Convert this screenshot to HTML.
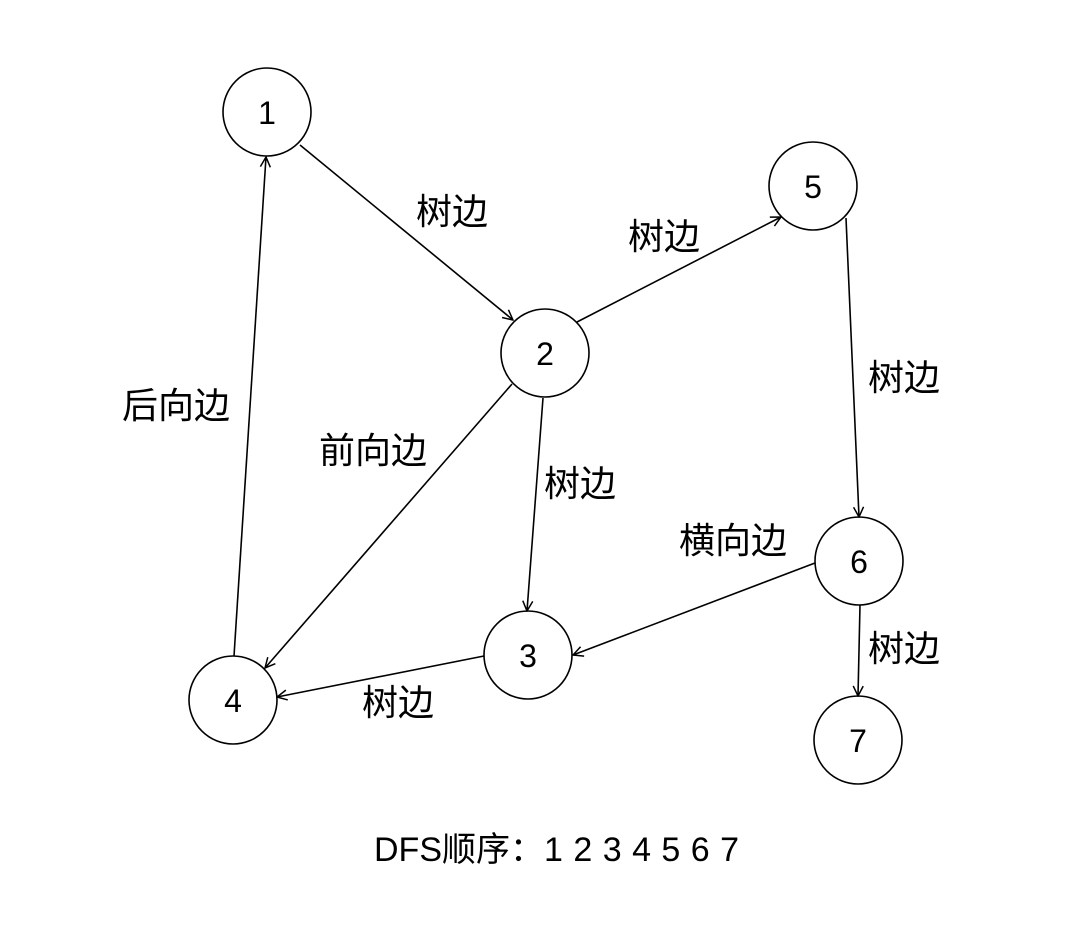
<!DOCTYPE html>
<html><head><meta charset="utf-8"><style>
html,body{margin:0;padding:0;background:#fff;}
svg text{font-family:"Liberation Sans","Noto Sans CJK SC",sans-serif;fill:#000;}
</style></head><body>
<svg width="1089" height="934" viewBox="0 0 1089 934" xmlns="http://www.w3.org/2000/svg">
<defs><marker id="a" viewBox="0 0 12 12" refX="11" refY="6" markerWidth="12" markerHeight="12" markerUnits="userSpaceOnUse" orient="auto"><path d="M1,1 L11,6 L1,11" fill="none" stroke="#000" stroke-width="1.5"/></marker></defs>
<g stroke="#000" stroke-width="1.6" fill="none" marker-end="url(#a)">
<line x1="300" y1="145" x2="513" y2="320"/>
<line x1="577" y1="322" x2="781" y2="217"/>
<line x1="846" y1="218" x2="859" y2="517"/>
<line x1="860" y1="605" x2="858" y2="696"/>
<line x1="815" y1="563" x2="573" y2="655"/>
<line x1="543" y1="398" x2="527" y2="611"/>
<line x1="512" y1="384" x2="265" y2="668"/>
<line x1="484" y1="656" x2="277" y2="697"/>
<line x1="234" y1="656" x2="266" y2="157"/>
</g>
<g stroke="#000" stroke-width="1.6" fill="none">
<circle cx="267" cy="112" r="44"/>
<circle cx="545" cy="353" r="44"/>
<circle cx="813" cy="186" r="44"/>
<circle cx="859" cy="561" r="44"/>
<circle cx="528" cy="655" r="44"/>
<circle cx="233" cy="700" r="44"/>
<circle cx="858" cy="740" r="44"/>
</g>
<g font-size="32" text-anchor="middle">
<text x="267" y="124">1</text>
<text x="545" y="365">2</text>
<text x="813" y="198">5</text>
<text x="859" y="573">6</text>
<text x="528" y="667">3</text>
<text x="233" y="712">4</text>
<text x="858" y="752">7</text>
</g>
<g font-size="36">
<text x="416" y="224">树边</text>
<text x="628" y="249">树边</text>
<text x="868" y="390">树边</text>
<text x="544" y="496">树边</text>
<text x="679" y="553">横向边</text>
<text x="319" y="463">前向边</text>
<text x="122" y="418">后向边</text>
<text x="362" y="715">树边</text>
<text x="868" y="661">树边</text>
<text x="374" y="861" font-size="34" word-spacing="1">DFS顺序：1 2 3 4 5 6 7</text>
</g>
</svg>
</body></html>
